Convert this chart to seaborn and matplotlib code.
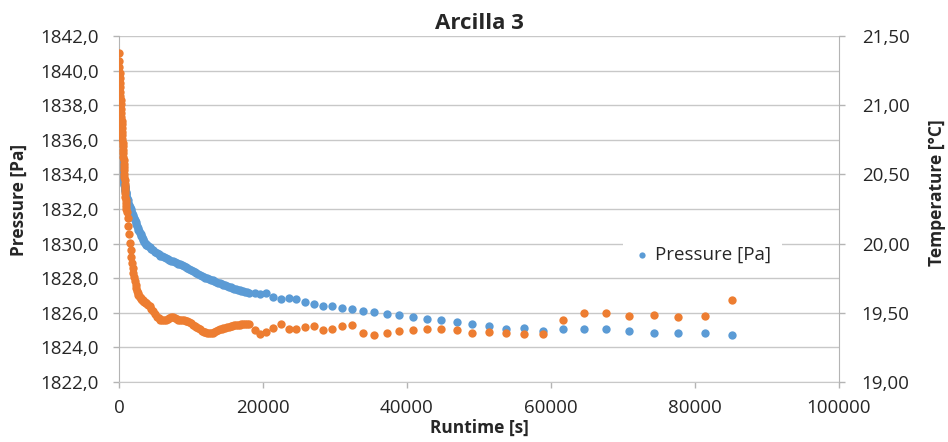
import matplotlib
matplotlib.use('Agg')
import matplotlib.pyplot as plt
import seaborn as sns
import pandas as pd
from matplotlib.ticker import FuncFormatter, MultipleLocator

# Datos (runtime en s, presion en Pa, temperatura en °C)
runtime = [
    0, 25, 50, 75, 100, 125, 150, 175, 200, 225, 250, 275, 300, 325, 350, 375, 400, 425, 450, 475,
    500, 525, 550, 575, 600, 625, 650, 675, 700, 725, 750, 775, 800, 825, 850, 875, 900, 925, 950, 975, 1000,
    1100, 1200, 1300, 1400, 1500, 1600, 1700, 1800, 1900, 2000, 2100, 2200, 2300, 2400, 2500,
    2600, 2700, 2800, 2900, 3000, 3100, 3200, 3300, 3400, 3500, 3600, 3700, 3800, 3900, 4000,
    4250, 4500, 4750, 5000, 5250, 5500, 5750, 6000, 6250, 6500, 6750, 7000, 7250, 7500, 7750,
    8000, 8250, 8500, 8750, 9000, 9250, 9500, 9750, 10000, 10250, 10500, 10750, 11000, 11250,
    11500, 11750, 12000, 12250, 12500, 12750, 13000, 13250, 13500, 13750, 14000, 14250, 14500,
    14750, 15000, 15250, 15500, 15750, 16000, 16250, 16500, 16750, 17000, 17250, 17500, 17750, 18000,
    18900, 19600, 20400, 21400, 22500, 23600, 24600, 25800, 27100, 28300, 29600, 31000, 32400,
    33900, 35400, 37200, 38900, 40800, 42800, 44700, 46900, 49000, 51400, 53800, 56200, 58900,
    61700, 64600, 67600, 70800, 74300, 77600, 81400, 85100,
]

pressure = [
    1839.32, 1838.57, 1837.99, 1837.53, 1837.13, 1836.78, 1836.49, 1836.20, 1835.97, 1835.74,
    1835.51, 1835.34, 1835.16, 1834.99, 1834.82, 1834.70, 1834.58, 1834.47, 1834.35, 1834.24,
    1834.12, 1834.03, 1833.95, 1833.86, 1833.77, 1833.69, 1833.60, 1833.54, 1833.49, 1833.43,
    1833.37, 1833.31, 1833.25, 1833.20, 1833.14, 1833.08, 1833.02, 1832.97, 1832.91, 1832.85, 1832.79,
    1832.62, 1832.50, 1832.36, 1832.21, 1832.10, 1831.98, 1831.87, 1831.75, 1831.64, 1831.55,
    1831.46, 1831.35, 1831.23, 1831.12, 1831.00, 1830.88, 1830.80, 1830.71, 1830.62, 1830.54,
    1830.45, 1830.36, 1830.28, 1830.19, 1830.10, 1830.02, 1829.98, 1829.94, 1829.90, 1829.87,
    1829.79, 1829.71, 1829.62, 1829.54, 1829.45, 1829.37, 1829.31, 1829.26, 1829.21, 1829.15,
    1829.10, 1829.06, 1829.01, 1828.97, 1828.92, 1828.88, 1828.84, 1828.80, 1828.74, 1828.68,
    1828.63, 1828.57, 1828.51, 1828.46, 1828.40, 1828.35, 1828.31, 1828.25, 1828.20, 1828.14,
    1828.09, 1828.04, 1827.99, 1827.95, 1827.91, 1827.87, 1827.83, 1827.79, 1827.75, 1827.71,
    1827.67, 1827.63, 1827.59, 1827.55, 1827.51, 1827.47, 1827.43, 1827.40, 1827.37, 1827.34,
    1827.31, 1827.28, 1827.25, 1827.21, 1827.19, 1827.17,
    1827.13, 1827.07, 1827.13, 1826.90, 1826.78, 1826.84, 1826.78, 1826.61, 1826.49, 1826.38,
    1826.38, 1826.26, 1826.20, 1826.09, 1826.03, 1825.91, 1825.86, 1825.74, 1825.62, 1825.57,
    1825.45, 1825.34, 1825.22, 1825.05, 1825.10, 1824.93, 1825.05, 1825.05, 1825.05, 1824.93,
    1824.82, 1824.82, 1824.82, 1824.70,
]

temperature = [
    21.375, 21.317, 21.274, 21.230, 21.194, 21.162, 21.129, 21.093, 21.064, 21.035,
    21.006, 20.974, 20.944, 20.916, 20.888, 20.862, 20.833, 20.807, 20.783, 20.754,
    20.728, 20.703, 20.676, 20.652, 20.626, 20.602, 20.577, 20.552, 20.530, 20.504,
    20.479, 20.457, 20.432, 20.409, 20.385, 20.363, 20.339, 20.316, 20.293, 20.270, 20.248,
    20.226, 20.183, 20.125, 20.067, 20.002, 19.952, 19.901, 19.858, 19.822, 19.785,
    19.756, 19.728, 19.699, 19.677, 19.655, 19.641, 19.630, 19.619, 19.612, 19.605,
    19.599, 19.594, 19.590, 19.585, 19.581, 19.576, 19.572, 19.569, 19.565, 19.558,
    19.547, 19.529, 19.511, 19.489, 19.471, 19.460, 19.449, 19.446, 19.446, 19.449,
    19.457, 19.464, 19.467, 19.467, 19.464, 19.457, 19.449, 19.446, 19.446, 19.446,
    19.442, 19.439, 19.431, 19.424, 19.413, 19.402, 19.395, 19.388, 19.381, 19.370,
    19.363, 19.359, 19.355, 19.352, 19.352, 19.355, 19.363, 19.370, 19.377, 19.381,
    19.384, 19.388, 19.392, 19.395, 19.399, 19.402, 19.406, 19.410, 19.412, 19.414,
    19.415, 19.417, 19.417, 19.418, 19.418, 19.417,
    19.374, 19.345, 19.359, 19.388, 19.417, 19.381, 19.381, 19.395, 19.402, 19.374,
    19.381, 19.402, 19.410, 19.352, 19.337, 19.352, 19.366, 19.374, 19.381, 19.381,
    19.374, 19.352, 19.359, 19.352, 19.345, 19.345, 19.446, 19.496, 19.496, 19.475,
    19.482, 19.467, 19.475, 19.590,
]

df = pd.DataFrame({'runtime': runtime, 'pressure': pressure, 'temperature': temperature})

sns.set_style('white')
plt.rcParams['font.family'] = ['Open Sans', 'DejaVu Sans']

blue = '#5b9bd5'
orange = '#ed7d31'
grid_c = '#c8c8c8'
axis_c = '#b4b4b4'

fig = plt.figure(figsize=(9.48, 4.42), dpi=100)
ax1 = fig.add_axes([119 / 948, 1 - 382 / 442, 720 / 948, 346 / 442])
ax2 = ax1.twinx()

sns.scatterplot(data=df, x='runtime', y='pressure', color=blue, s=36, linewidth=0,
                ax=ax1, label='Pressure [Pa]', legend=False)
sns.scatterplot(data=df, x='runtime', y='temperature', color=orange, s=36, linewidth=0,
                ax=ax2, legend=False)

# Ejes
ax1.set_xlim(0, 100000)
ax1.set_ylim(1822, 1842)
ax2.set_ylim(19.0, 21.5)
ax1.xaxis.set_major_locator(MultipleLocator(20000))
ax1.yaxis.set_major_locator(MultipleLocator(2))
ax2.yaxis.set_major_locator(MultipleLocator(0.5))
ax1.xaxis.set_major_formatter(FuncFormatter(lambda v, _: f'{int(v)}'))
ax1.yaxis.set_major_formatter(FuncFormatter(lambda v, _: f'{v:.1f}'.replace('.', ',')))
ax2.yaxis.set_major_formatter(FuncFormatter(lambda v, _: f'{v:.2f}'.replace('.', ',')))

ax1.grid(axis='y', color=grid_c, linewidth=1)
ax1.grid(axis='x', visible=False)
ax2.grid(False)

for s in ['top', 'right']:
    ax1.spines[s].set_visible(False)
ax1.spines['left'].set_color(axis_c)
ax1.spines['bottom'].set_color(grid_c)
for s in ['top', 'left', 'bottom']:
    ax2.spines[s].set_visible(False)
ax2.spines['right'].set_color(axis_c)

ax1.tick_params(axis='y', left=True, direction='out', length=4.3, width=1, color=axis_c,
                pad=10, labelsize=13.5, labelcolor='#262626')
ax1.tick_params(axis='x', bottom=True, direction='out', length=4.3, width=1, color=axis_c,
                pad=8, labelsize=13.5, labelcolor='#262626')
ax2.tick_params(axis='y', right=True, direction='out', length=4.3, width=1, color=axis_c,
                pad=12, labelsize=13.5, labelcolor='#262626')

ax1.set_xlabel('Runtime [s]', fontsize=12.5, fontweight='bold', color='#262626')
ax1.set_ylabel('Pressure [Pa]', fontsize=12.5, fontweight='bold', color='#262626')
ax2.set_ylabel('Temperature [°C]', fontsize=12.5, fontweight='bold', color='#262626')
ax1.xaxis.set_label_coords(0.5, (382 - 419) / 346)
ax1.yaxis.set_label_coords((28 - 119) / 720, (382 - 200) / 346)
ax2.yaxis.set_label_coords((928 - 119) / 720, (382 - 193) / 346)

ax1.set_title('Arcilla 3', fontsize=16, fontweight='bold', color='#262626', pad=5)

ax1.legend(loc='center', bbox_to_anchor=(0.811, 0.367), frameon=True, facecolor='white',
           edgecolor='none', framealpha=1, fancybox=False, handlelength=0.8,
           handletextpad=0.3, borderpad=0.6, markerscale=0.75, fontsize=13.5)

fig.savefig('out.png', dpi=100)
